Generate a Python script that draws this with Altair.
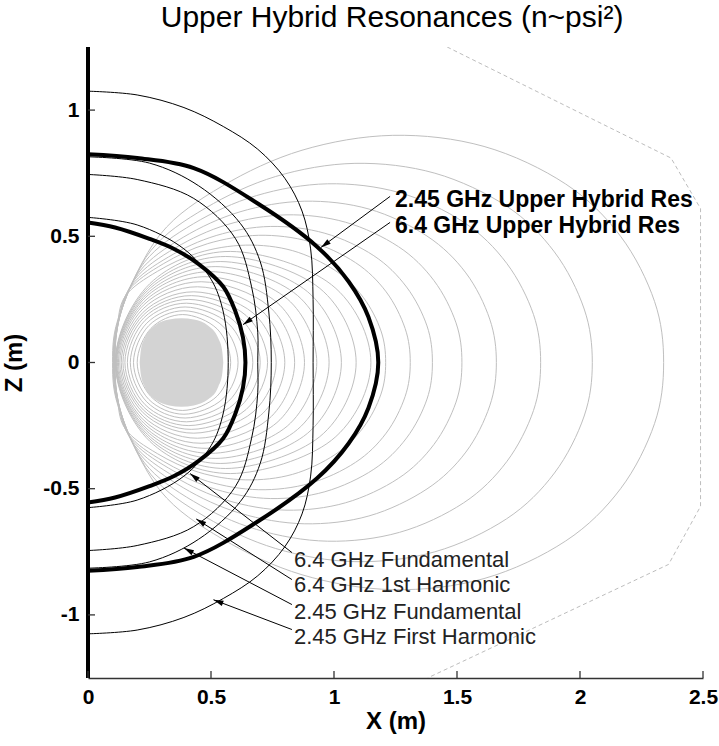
import math
import altair as alt
import pandas as pd

FONT = "Liberation Sans"

# Axis ranges and tick values (metres)
X_DOMAIN = [0.0, 2.5]
Z_DOMAIN = [-1.25, 1.25]
X_TICKS = [0, 0.5, 1, 1.5, 2, 2.5]
Z_TICKS = [-1, -0.5, 0, 0.5, 1]

PLOT_W = 615
PLOT_H = 631

# Closed flux surfaces hugging the floating coil: upper half, from the inner
# midplane crossing to the outer one (the lower half is the mirror image).
RING_SURFACES = [
    [(0.200, 0), (0.256, 0.135), (0.385, 0.190), (0.525, 0.133), (0.580, 0)],
    [(0.185, 0), (0.247, 0.146), (0.390, 0.205), (0.548, 0.144), (0.610, 0)],
    [(0.172, 0), (0.239, 0.156), (0.395, 0.220), (0.571, 0.154), (0.640, 0)],
    [(0.160, 0), (0.232, 0.167), (0.400, 0.235), (0.594, 0.165), (0.670, 0)],
    [(0.150, 0), (0.228, 0.178), (0.410, 0.250), (0.619, 0.175), (0.700, 0)],
    [(0.142, 0), (0.225, 0.188), (0.420, 0.265), (0.643, 0.186), (0.730, 0)],
    [(0.135, 0), (0.224, 0.199), (0.430, 0.280), (0.671, 0.196), (0.765, 0)],
    [(0.129, 0), (0.224, 0.213), (0.445, 0.300), (0.701, 0.210), (0.800, 0)],
    [(0.124, 0), (0.225, 0.227), (0.460, 0.320), (0.734, 0.224), (0.840, 0)],
    [(0.120, 0), (0.228, 0.241), (0.480, 0.340), (0.768, 0.238), (0.880, 0)],
    [(0.117, 0), (0.232, 0.256), (0.500, 0.360), (0.810, 0.252), (0.930, 0)],
    [(0.115, 0), (0.237, 0.270), (0.520, 0.380), (0.851, 0.266), (0.980, 0)],
    [(0.113, 0), (0.241, 0.284), (0.540, 0.400), (0.893, 0.280), (1.030, 0)],
    [(0.112, 0), (0.246, 0.298), (0.560, 0.420), (0.942, 0.294), (1.090, 0)],
    [(0.111, 0), (0.251, 0.312), (0.580, 0.440), (0.990, 0.308), (1.150, 0)],
]

# Outer, dipole-like flux surfaces (same convention)
DIPOLE_SURFACES = [
    [(0.110, 0), (0.118, 0.13), (0.151, 0.262), (0.282, 0.361), (0.450, 0.435), (0.641, 0.465),
     (0.832, 0.443), (1.004, 0.365), (1.119, 0.258), (1.191, 0.125), (1.210, 0)],
    [(0.108, 0), (0.120, 0.14), (0.164, 0.284), (0.306, 0.391), (0.487, 0.471), (0.694, 0.504),
     (0.901, 0.479), (1.087, 0.396), (1.212, 0.280), (1.289, 0.135), (1.310, 0)],
    [(0.107, 0), (0.122, 0.15), (0.175, 0.303), (0.327, 0.418), (0.521, 0.503), (0.741, 0.539),
     (0.963, 0.512), (1.162, 0.423), (1.295, 0.299), (1.378, 0.145), (1.400, 0)],
    [(0.106, 0), (0.124, 0.16), (0.190, 0.329), (0.355, 0.454), (0.565, 0.546), (0.805, 0.585),
     (1.046, 0.556), (1.262, 0.459), (1.406, 0.325), (1.496, 0.157), (1.520, 0)],
    [(0.105, 0), (0.126, 0.17), (0.208, 0.359), (0.387, 0.496), (0.618, 0.597), (0.879, 0.639),
     (1.142, 0.608), (1.378, 0.501), (1.536, 0.355), (1.633, 0.172), (1.660, 0)],
    [(0.104, 0), (0.128, 0.18), (0.230, 0.398), (0.429, 0.550), (0.684, 0.661), (0.974, 0.708),
     (1.266, 0.673), (1.527, 0.556), (1.702, 0.393), (1.811, 0.190), (1.840, 0)],
    [(0.102, 0), (0.130, 0.19), (0.256, 0.444), (0.478, 0.612), (0.763, 0.737), (1.085, 0.789),
     (1.410, 0.750), (1.702, 0.619), (1.896, 0.438), (2.017, 0.212), (2.050, 0)],
    [(0.100, 0), (0.132, 0.20), (0.293, 0.507), (0.546, 0.699), (0.870, 0.841), (1.239, 0.900),
     (1.610, 0.856), (1.942, 0.707), (2.165, 0.500), (2.303, 0.242), (2.340, 0)],
]

# Cross-section of the coil (upper edge)
COIL_EDGE = [(0.21, 0), (0.215, 0.05), (0.23, 0.095), (0.27, 0.145), (0.33, 0.170),
             (0.38, 0.175), (0.43, 0.170), (0.49, 0.145), (0.53, 0.095), (0.545, 0.05), (0.55, 0)]

# Vacuum vessel wall
VESSEL_WALL = [(1.46, 1.25), (2.37, 0.81), (2.49, 0.61), (2.49, -0.57), (2.36, -0.80), (1.38, -1.25)]

# Cyclotron resonance layers: upper half from the axis to the midplane
ECR_LAYERS = {
    "6.4 GHz Fundamental": [(0, 0.575), (0.20, 0.545), (0.39, 0.45), (0.50, 0.33), (0.55, 0.20), (0.57, 0)],
    "6.4 GHz 1st Harmonic": [(0, 0.745), (0.20, 0.725), (0.43, 0.65), (0.60, 0.49), (0.665, 0.30), (0.69, 0.12), (0.69, 0)],
    "2.45 GHz Fundamental": [(0, 0.815), (0.25, 0.79), (0.45, 0.70), (0.62, 0.55), (0.70, 0.40), (0.735, 0.20), (0.745, 0)],
    "2.45 GHz First Harmonic": [(0, 1.075), (0.20, 1.06), (0.39, 1.01), (0.55, 0.935), (0.69, 0.845),
                                (0.80, 0.73), (0.87, 0.60), (0.905, 0.45), (0.915, 0.25), (0.915, 0)],
}

# Upper hybrid resonance layers (same convention)
UHR_LAYERS = {
    "6.4 GHz Upper Hybrid Res": [(0, 0.555), (0.11, 0.535), (0.25, 0.49), (0.35, 0.45), (0.45, 0.39),
                                 (0.55, 0.30), (0.60, 0.20), (0.63, 0.10), (0.64, 0)],
    "2.45 GHz Upper Hybrid Res": [(0, 0.825), (0.20, 0.81), (0.43, 0.77), (0.69, 0.63), (0.93, 0.46),
                                  (1.06, 0.32), (1.14, 0.18), (1.18, 0)],
}

# Annotations: label text, text anchor, arrow tail and arrow tip
UHR_LABELS = ["2.45 GHz Upper Hybrid Res", "6.4 GHz Upper Hybrid Res"]
UHR_TEXT_AT = [(1.248, 0.618), (1.248, 0.515)]
UHR_TAIL = [(1.228, 0.658), (1.228, 0.555)]
UHR_TIP = [(0.947, 0.456), (0.630, 0.150)]

ECR_LABELS = ["6.4 GHz Fundamental", "6.4 GHz 1st Harmonic", "2.45 GHz Fundamental", "2.45 GHz First Harmonic"]
ECR_TEXT_AT = [(0.837, -0.812), (0.837, -0.911), (0.837, -1.018), (0.837, -1.117)]
ECR_TAIL = [(0.829, -0.753), (0.829, -0.860), (0.829, -0.959), (0.829, -1.058)]
ECR_TIP = [(0.415, -0.44), (0.44, -0.62), (0.39, -0.735), (0.51, -0.94)]

TITLE = "Upper Hybrid Resonances (n~psi\u00b2)"
TITLE_AT = (1.236, 1.331)


def closed_rows(name, upper):
    pts = list(upper) + [(x, -z) for x, z in reversed(upper[1:-1])]
    return [{"cid": name, "ord": i, "x": x, "z": z} for i, (x, z) in enumerate(pts)]


def open_rows(name, upper):
    pts = list(upper) + [(x, -z) for x, z in reversed(upper[:-1])]
    return [{"cid": name, "ord": i, "x": x, "z": z} for i, (x, z) in enumerate(pts)]


flux_rows = []
for i, s in enumerate(RING_SURFACES + DIPOLE_SURFACES):
    flux_rows += closed_rows(f"s{i}", s)
flux_df = pd.DataFrame(flux_rows)

coil_df = pd.DataFrame([{"x": x, "z": z, "zn": -z} for x, z in COIL_EDGE])
wall_df = pd.DataFrame([{"ord": i, "x": x, "z": z} for i, (x, z) in enumerate(VESSEL_WALL)])

ecr_rows = []
for name, pts in ECR_LAYERS.items():
    ecr_rows += open_rows(name, pts)
ecr_df = pd.DataFrame(ecr_rows)

uhr_rows = []
for name, pts in UHR_LAYERS.items():
    uhr_rows += open_rows(name, pts)
uhr_df = pd.DataFrame(uhr_rows)

px_per_x = PLOT_W / (X_DOMAIN[1] - X_DOMAIN[0])
px_per_z = PLOT_H / (Z_DOMAIN[1] - Z_DOMAIN[0])

arrow_rows = []
for tails, tips in ((UHR_TAIL, UHR_TIP), (ECR_TAIL, ECR_TIP)):
    for (tx, tz), (hx, hz) in zip(tails, tips):
        dx = (hx - tx) * px_per_x
        dy = -(hz - tz) * px_per_z
        ang = math.degrees(math.atan2(dx, -dy)) % 360
        arrow_rows.append({"x": tx, "z": tz, "x2": hx, "z2": hz, "ang": ang})
arrow_df = pd.DataFrame(arrow_rows)

uhr_text_df = pd.DataFrame([{"x": x, "z": z, "label": t} for t, (x, z) in zip(UHR_LABELS, UHR_TEXT_AT)])
ecr_text_df = pd.DataFrame([{"x": x, "z": z, "label": t} for t, (x, z) in zip(ECR_LABELS, ECR_TEXT_AT)])
title_df = pd.DataFrame([{"x": TITLE_AT[0], "z": TITLE_AT[1], "label": TITLE}])

xscale = alt.Scale(domain=X_DOMAIN, nice=False, zero=False)
zscale = alt.Scale(domain=Z_DOMAIN, nice=False, zero=False)

x_axis = alt.Axis(
    values=X_TICKS, ticks=False, grid=False, labelExpr="'' + datum.value",
    labelFont=FONT, labelFontSize=21, labelFontWeight="bold", labelColor="black",
    labelPadding=8, labelFlush=False, labelOverlap=False,
    title="X (m)", titleFont=FONT, titleFontSize=24, titleFontWeight="bold",
    titleColor="black", titlePadding=2, domainColor="#333333", domainWidth=1.3,
)
z_axis = alt.Axis(
    values=Z_TICKS, ticks=False, grid=False, domain=False, labelExpr="'' + datum.value",
    labelFont=FONT, labelFontSize=21, labelFontWeight="bold", labelColor="black",
    labelPadding=9, labelFlush=False, labelOverlap=False,
    title="Z (m)", titleFont=FONT, titleFontSize=24, titleFontWeight="bold",
    titleColor="black", titlePadding=16,
)

X = alt.X("x:Q", scale=xscale, axis=x_axis)
Z = alt.Y("z:Q", scale=zscale, axis=z_axis)

flux = alt.Chart(flux_df).mark_line(
    interpolate="cardinal-closed", color="#bfbfbf", strokeWidth=1, clip=True
).encode(x=X, y=Z, detail="cid:N", order="ord:Q")

coil = alt.Chart(coil_df).mark_area(
    interpolate="monotone", color="#d3d3d3", opacity=1
).encode(x=X, y=Z, y2="zn:Q")

wall = alt.Chart(wall_df).mark_line(
    color="#bdbdbd", strokeWidth=1, strokeDash=[4, 3], clip=True
).encode(x=X, y=Z, order="ord:Q")

ecr = alt.Chart(ecr_df).mark_line(
    interpolate="catmull-rom", color="black", strokeWidth=1
).encode(x=X, y=Z, detail="cid:N", order="ord:Q")

uhr = alt.Chart(uhr_df).mark_line(
    interpolate="catmull-rom", color="black", strokeWidth=4
).encode(x=X, y=Z, detail="cid:N", order="ord:Q")

center_post = alt.Chart(pd.DataFrame([{"x": 0, "z": Z_DOMAIN[0], "z2": Z_DOMAIN[1]}])).mark_rule(
    color="black", strokeWidth=4
).encode(x=X, y=Z, y2="z2:Q")

x_ticks = alt.Chart(pd.DataFrame({"x": X_TICKS})).mark_rule(
    color="#333333", strokeWidth=1.3
).encode(x=X, y=alt.value(PLOT_H), y2=alt.value(PLOT_H - 7))

z_ticks = alt.Chart(pd.DataFrame({"z": Z_TICKS})).mark_rule(
    color="#333333", strokeWidth=1.3
).encode(y=Z, x=alt.value(0), x2=alt.value(7))

arrow_shafts = alt.Chart(arrow_df).mark_rule(color="black", strokeWidth=1).encode(
    x=X, y=Z, x2="x2:Q", y2="z2:Q"
)
arrow_heads = alt.Chart(arrow_df).mark_point(
    shape="M0,0L-0.7,2.5L0.7,2.5Z", filled=True, color="black", size=64, opacity=1
).encode(
    x=alt.X("x2:Q", scale=xscale, axis=x_axis),
    y=alt.Y("z2:Q", scale=zscale, axis=z_axis),
    angle=alt.Angle("ang:Q", scale=None),
)

uhr_text = alt.Chart(uhr_text_df).mark_text(
    font=FONT, fontSize=23, fontWeight="bold", align="left", baseline="alphabetic", color="black"
).encode(x=X, y=Z, text="label:N")

ecr_text = alt.Chart(ecr_text_df).mark_text(
    font=FONT, fontSize=22, fontWeight="normal", align="left", baseline="alphabetic", color="#222222"
).encode(x=X, y=Z, text="label:N")

title = alt.Chart(title_df).mark_text(
    font=FONT, fontSize=30, fontWeight="normal", align="center", baseline="alphabetic", color="black"
).encode(x=X, y=Z, text="label:N")

chart = alt.layer(
    flux, coil, wall, ecr, uhr, center_post, x_ticks, z_ticks,
    arrow_shafts, arrow_heads, uhr_text, ecr_text, title,
).properties(
    width=PLOT_W,
    height=PLOT_H,
    padding={"left": 88, "top": 47, "right": 16, "bottom": 68},
    autosize=alt.AutoSizeParams(type="none"),
    background="white",
).configure_view(stroke=None)

chart.save("out.html", embed_options={"renderer": "svg", "actions": False})
